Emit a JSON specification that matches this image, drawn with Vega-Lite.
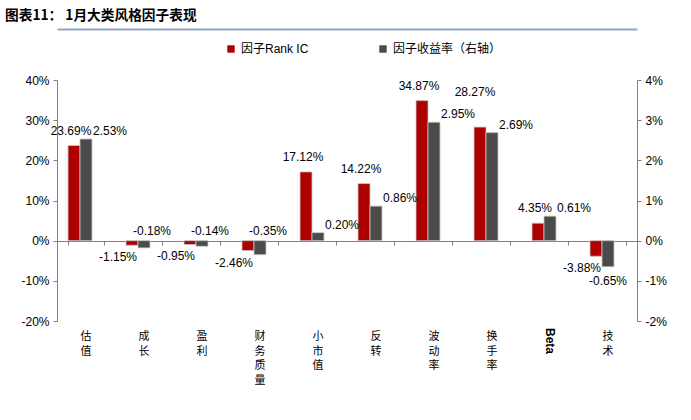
{
  "$schema": "https://vega.github.io/schema/vega-lite/v6.json",
  "width": 580,
  "height": 241,
  "autosize": "none",
  "padding": {"left": 57, "top": 80, "right": 54, "bottom": 99},
  "background": "white",
  "config": {
    "view": {"stroke": null},
    "font": "Liberation Sans, Noto Sans CJK SC",
    "axis": {"grid": false, "domainColor": "#808080", "tickColor": "#808080", "labelColor": "#000000", "labelFontSize": 12, "labelFont": "Liberation Sans", "tickSize": 4},
    "text": {"font": "Liberation Sans", "fontSize": 12, "color": "#000000"}
  },
  "title": {"text": "图表11： 1月大类风格因子表现", "anchor": "start", "frame": "group", "dx": -52, "fontSize": 13.7, "font": "Noto Sans CJK SC", "fontWeight": "bold", "color": "#000000", "offset": 6},
  "data": {"values": [
    {"cat": "估值", "series": "因子Rank IC", "value": 0.2369},
    {"cat": "成长", "series": "因子Rank IC", "value": -0.0115},
    {"cat": "盈利", "series": "因子Rank IC", "value": -0.0095},
    {"cat": "财务质量", "series": "因子Rank IC", "value": -0.0246},
    {"cat": "小市值", "series": "因子Rank IC", "value": 0.1712},
    {"cat": "反转", "series": "因子Rank IC", "value": 0.1422},
    {"cat": "波动率", "series": "因子Rank IC", "value": 0.3487},
    {"cat": "换手率", "series": "因子Rank IC", "value": 0.2827},
    {"cat": "Beta", "series": "因子Rank IC", "value": 0.0435},
    {"cat": "技术", "series": "因子Rank IC", "value": -0.0388},
    {"cat": "估值", "series": "因子收益率（右轴）", "value": 0.0253},
    {"cat": "成长", "series": "因子收益率（右轴）", "value": -0.0018},
    {"cat": "盈利", "series": "因子收益率（右轴）", "value": -0.0014},
    {"cat": "财务质量", "series": "因子收益率（右轴）", "value": -0.0035},
    {"cat": "小市值", "series": "因子收益率（右轴）", "value": 0.0020},
    {"cat": "反转", "series": "因子收益率（右轴）", "value": 0.0086},
    {"cat": "波动率", "series": "因子收益率（右轴）", "value": 0.0295},
    {"cat": "换手率", "series": "因子收益率（右轴）", "value": 0.0269},
    {"cat": "Beta", "series": "因子收益率（右轴）", "value": 0.0061},
    {"cat": "技术", "series": "因子收益率（右轴）", "value": -0.0065}
  ]},
  "transform": [{"calculate": "replace(format(datum.value, '.2%'), '−', '-')", "as": "lbl"}],
  "layer": [
    {
      "layer": [
        {
          "transform": [{"filter": "datum.series == '因子Rank IC'"}],
          "mark": {"type": "bar", "stroke": "#C8C8C8", "strokeWidth": 0.8},
          "encoding": {
            "x": {"field": "cat", "type": "nominal", "sort": ["估值","成长","盈利","财务质量","小市值","反转","波动率","换手率","Beta","技术"], "scale": {"paddingInner": 0.38, "paddingOuter": 0.19},
                  "axis": {"orient": "bottom", "offset": -80, "labels": false, "ticks": true, "tickBand": "extent", "tickSize": 4, "domain": true, "domainColor": "#808080", "title": null}},
            "xOffset": {"field": "series", "type": "nominal", "scale": {"domain": ["因子Rank IC", "因子收益率（右轴）", "pad"]}},
            "y": {"field": "value", "type": "quantitative", "scale": {"domain": [-0.2, 0.4], "nice": false, "zero": true},
                  "axis": {"orient": "left", "values": [-0.2, -0.1, 0, 0.1, 0.2, 0.3, 0.4], "format": ".0%", "labelExpr": "replace(datum.label, '−', '-')", "title": null, "labelPadding": 4}},
            "color": {"field": "series", "type": "nominal", "scale": {"domain": ["因子Rank IC", "因子收益率（右轴）"], "range": ["#AE0000", "#4B4B4B"]},
                      "legend": {"title": null, "orient": "none", "legendX": 168, "legendY": -37, "direction": "horizontal", "symbolType": "square", "symbolSize": 55, "symbolStrokeWidth": 0, "labelFontSize": 12, "labelFont": "Liberation Sans, Noto Sans CJK SC", "labelColor": "#000000", "columnPadding": 68, "labelOffset": 4, "padding": 0}}
          }
        },
        {
          "transform": [{"filter": "datum.series == '因子Rank IC' && datum.value >= 0 && datum.cat != '换手率'"}],
          "mark": {"type": "text", "baseline": "bottom", "dy": -8, "dx": -3},
          "encoding": {
            "x": {"field": "cat", "type": "nominal", "sort": ["估值","成长","盈利","财务质量","小市值","反转","波动率","换手率","Beta","技术"], "axis": null},
            "xOffset": {"field": "series", "type": "nominal"},
            "y": {"field": "value", "type": "quantitative"},
            "text": {"field": "lbl"}
          }
        },
        {
          "transform": [{"filter": "datum.series == '因子Rank IC' && datum.cat == '换手率'"}],
          "mark": {"type": "text", "baseline": "bottom", "dy": -28, "dx": -5},
          "encoding": {
            "x": {"field": "cat", "type": "nominal", "sort": ["估值","成长","盈利","财务质量","小市值","反转","波动率","换手率","Beta","技术"], "axis": null},
            "xOffset": {"field": "series", "type": "nominal"},
            "y": {"field": "value", "type": "quantitative"},
            "text": {"field": "lbl"}
          }
        },
        {
          "transform": [{"filter": "datum.series == '因子Rank IC' && datum.value < 0"}],
          "mark": {"type": "text", "baseline": "top", "dy": 7, "dx": -14},
          "encoding": {
            "x": {"field": "cat", "type": "nominal", "sort": ["估值","成长","盈利","财务质量","小市值","反转","波动率","换手率","Beta","技术"], "axis": null},
            "xOffset": {"field": "series", "type": "nominal"},
            "y": {"field": "value", "type": "quantitative"},
            "text": {"field": "lbl"}
          }
        },
        {
          "transform": [{"filter": "datum.series == '因子Rank IC' && datum.cat != 'Beta'"}, {"calculate": "split(datum.cat, '')", "as": "chars"}],
          "mark": {"type": "text", "baseline": "top", "dy": 10, "font": "Noto Sans CJK SC", "fontSize": 11, "lineHeight": 14.5},
          "encoding": {
            "x": {"field": "cat", "type": "nominal", "sort": ["估值","成长","盈利","财务质量","小市值","反转","波动率","换手率","Beta","技术"],
                  "axis": {"orient": "top", "offset": 51, "labels": false, "ticks": false, "domain": true, "domainColor": "#94A6C2", "domainWidth": 2, "title": null}},
            "y": {"datum": -0.2, "type": "quantitative"},
            "text": {"field": "chars"}
          }
        },
        {
          "transform": [{"filter": "datum.series == '因子Rank IC' && datum.cat == 'Beta'"}],
          "mark": {"type": "text", "align": "left", "baseline": "middle", "angle": 90, "dx": 7, "font": "Liberation Sans", "fontSize": 12, "fontWeight": "bold"},
          "encoding": {
            "x": {"field": "cat", "type": "nominal", "sort": ["估值","成长","盈利","财务质量","小市值","反转","波动率","换手率","Beta","技术"], "axis": null},
            "y": {"datum": -0.2, "type": "quantitative"},
            "text": {"field": "cat"}
          }
        }
      ]
    },
    {
      "layer": [
        {
          "transform": [{"filter": "datum.series == '因子收益率（右轴）'"}],
          "mark": {"type": "bar", "stroke": "#C8C8C8", "strokeWidth": 0.8},
          "encoding": {
            "x": {"field": "cat", "type": "nominal", "sort": ["估值","成长","盈利","财务质量","小市值","反转","波动率","换手率","Beta","技术"],
                  "axis": {"orient": "bottom", "offset": 76, "labels": false, "ticks": false, "domain": true, "domainColor": "#94A6C2", "domainWidth": 2,
                           "title": "资料来源：Wind，华泰研究", "titleAnchor": "start", "titleAlign": "left", "titleX": -52, "titleY": 15, "titleBaseline": "alphabetic", "titleFont": "Noto Sans CJK SC", "titleFontSize": 11, "titleFontWeight": "normal", "titleColor": "#000000"}},
            "xOffset": {"field": "series", "type": "nominal"},
            "y": {"field": "value", "type": "quantitative", "scale": {"domain": [-0.02, 0.04], "nice": false, "zero": true},
                  "axis": {"orient": "right", "values": [-0.02, -0.01, 0, 0.01, 0.02, 0.03, 0.04], "format": ".0%", "labelExpr": "replace(datum.label, '−', '-')", "title": null, "labelPadding": 4}},
            "color": {"field": "series", "type": "nominal"}
          }
        },
        {
          "transform": [{"filter": "datum.series == '因子收益率（右轴）' && datum.value >= 0"}],
          "mark": {"type": "text", "baseline": "bottom", "dy": -1, "dx": 24},
          "encoding": {
            "x": {"field": "cat", "type": "nominal", "sort": ["估值","成长","盈利","财务质量","小市值","反转","波动率","换手率","Beta","技术"], "axis": null},
            "xOffset": {"field": "series", "type": "nominal"},
            "y": {"field": "value", "type": "quantitative"},
            "text": {"field": "lbl"}
          }
        },
        {
          "transform": [{"filter": "datum.series == '因子收益率（右轴）' && datum.value < 0 && datum.value > -0.005"}],
          "mark": {"type": "text", "baseline": "bottom", "dy": -3, "dx": 8},
          "encoding": {
            "x": {"field": "cat", "type": "nominal", "sort": ["估值","成长","盈利","财务质量","小市值","反转","波动率","换手率","Beta","技术"], "axis": null},
            "xOffset": {"field": "series", "type": "nominal"},
            "y": {"datum": 0, "type": "quantitative"},
            "text": {"field": "lbl"}
          }
        },
        {
          "transform": [{"filter": "datum.series == '因子收益率（右轴）' && datum.value <= -0.005"}],
          "mark": {"type": "text", "baseline": "top", "dy": 9},
          "encoding": {
            "x": {"field": "cat", "type": "nominal", "sort": ["估值","成长","盈利","财务质量","小市值","反转","波动率","换手率","Beta","技术"], "axis": null},
            "xOffset": {"field": "series", "type": "nominal"},
            "y": {"field": "value", "type": "quantitative"},
            "text": {"field": "lbl"}
          }
        }
      ]
    }
  ],
  "resolve": {"scale": {"y": "independent"}, "axis": {"x": "independent"}}
}
